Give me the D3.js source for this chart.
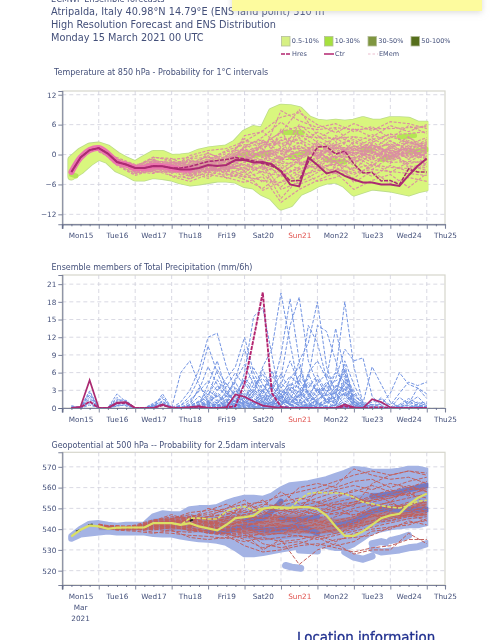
<!DOCTYPE html>
<html><head><meta charset="utf-8">
<script src="https://cdnjs.cloudflare.com/ajax/libs/d3/7.8.5/d3.min.js"></script>
<style>html,body{margin:0;padding:0;background:#fff;overflow:hidden}svg{display:block;filter:blur(.4px)}text{font-family:"DejaVu Sans",sans-serif}</style>
</head><body><svg id="c" width="499" height="640"></svg>
<script>
const titleLines=["ECMWF Ensemble forecasts","Atripalda, Italy 40.98°N 14.79°E (ENS land point) 310 m","High Resolution Forecast and ENS Distribution","Monday 15 March 2021 00 UTC"];
const dayLabels=["Mon15","Tue16","Wed17","Thu18","Fri19","Sat20","Sun21","Mon22","Tue23","Wed24","Thu25"];
const dayTicks=[0,24,48,72,96,120,144,168,192,216,240];
const minorTicks=[6,12,18,30,36,42,54,60,66,78,84,90,102,108,114,126,132,138,150,156,162,174,180,186,198,204,210,222,228,234,246];
const legendBands=["0.5-10%","10-30%","30-50%","50-100%"];
const legendBandColors=["#d6f083","#a6e03e","#7f9640","#566f1c"];
const legendLines=["Hres","Ctr","EMem"];
const hours6=[6,12,18,24,30,36,42,48,54,60,66,72,78,84,90,96,102,108,114,120,126,132,138,144,150,156,162,168,174,180,186,192,198,204,210,216,222,228,234,240];
const hoursM=[24,36,48,60,72,84,96,108,120,132,144,156,168,180,192,204,216,228,240];
const hoursLate=[72,78,84,90,96,102,108,114,120,126,132,138,144,150,156,162,168,174,180,186,192,198,204,210,216,222,228,234,240];
const hoursEarly=[6,12,18,24,30,36,42,48,54,60,66,72];

const tTicks=[12,6,0,-6,-12];
const tCtr=[-3.5,-0.6,0.9,1.3,0.2,-1.5,-2,-2.7,-2.7,-2.3,-2.35,-2.7,-3,-3,-2.7,-2.1,-2.3,-2.1,-1.1,-1.1,-1.6,-1.5,-1.95,-3.4,-6,-6.4,-0.6,-2.1,-3.8,-3.3,-4.3,-5,-5.6,-5.6,-6,-6,-6.3,-4.2,-2.3,-0.8];
const tHres=[-3.5,-0.6,0.9,1.3,0.2,-1.5,-2,-2.7,-2.7,-2.3,-2.35,-2.7,-2.7,-2.4,-1.9,-1.4,-1.2,-1,-0.6,-0.9,-1.3,-1.8,-2.3,-3.2,-5.3,-5.2,-1.5,1.5,1.6,0.1,0.7,-1.9,-3.7,-3.6,-5.3,-5.2,-6,-2.9,-3.5,-3.5];
const tUpper=[-1,0.6,1.6,1.8,1.2,-0.2,-1.2,-2,-0.9,0.1,0.1,-0.7,-0.6,-0.4,0.4,0.8,1,1.2,2.2,4.2,5.1,4.8,8.6,9.4,9.3,8.9,7.1,6.4,6.2,6.4,6.2,6.4,6.9,6.4,6.4,6.9,6.9,6.8,6,6];
const tLower=[-4.4,-3.2,-1.6,-0.4,-1.1,-2.8,-3.6,-4.6,-4.6,-4.1,-4.3,-4.6,-5.2,-5.6,-5.4,-5.1,-4.8,-4.8,-5,-5.9,-6.2,-7.6,-8.4,-10.4,-9.8,-7.6,-6.8,-5.8,-5.2,-5,-5.9,-7.6,-7,-6.4,-6.6,-6.8,-7.2,-7.6,-7,-6.6];
const tBlobs=[[[6,-4],[9,-4.3]],[[114,-0.5],[122,0]],[[126,-0.2],[136,0.3]],[[146,4.4],[158,4.4]],[[150,-0.5],[162,0.5]],[[174,-1],[186,-1.5]],[[198,1],[204,0.8]],[[210,-1],[216,-0.5]],[[222,3.5],[232,3.8]],[[228,0.5],[240,1]]];
const tMembers=[
[1.2,-1.2,-2.6,-2,-2.8,-3.2,-2.2,-1.5,0.5,1.2,3.5,2.2,4.5,2.8,5.2,3.5,5.8,4.6,6],
[1.5,-1,-3,-1.2,-2,-1.5,-3.2,-2.5,-3,-1.2,-4.5,-2.5,0.5,-1.5,1.2,3.2,1.5,2.6,1],
[1,-1.8,-2.2,-3.2,-1.8,-4,-1.5,0.2,-1.5,2.8,0.5,6,3.2,5.2,1.8,0.2,2.8,0.8,2.6],
[1.3,-0.8,-3.4,-2.4,-3.6,-2.4,-0.8,-3.4,-1.5,-4,-6.5,-3.5,-1.8,-3.8,-1,-3,-0.5,1.8,-1.2],
[0.8,-1.5,-2.4,-0.5,-1.2,-2.8,-4.4,-1.8,1.5,3.5,6.5,4,1.5,3.4,0.8,2.4,4.2,2,3.4],
[1.6,-2,-3.8,-3.2,-4.2,-4.8,-3.5,-4.2,-2.5,-5.6,-2.5,-6,-4.5,-2.5,-4.8,-1.8,-3.6,-1.5,0.4],
[0.5,-0.6,-2,-1.8,-1,-0.6,0.2,-1,3.2,1,-0.5,2.5,0.2,-1.6,-3.2,0.6,-1.8,3.4,1.6],
[1.1,-1.3,-2.9,-2.6,-3.1,-3.6,-2.6,-2.9,-4.2,-2.2,-8.8,-4.8,-2.6,-0.2,1.8,-0.6,0.8,-0.8,1.2],
[1.4,-1.6,-3.2,-1.6,-2.4,-2,-1,0.8,2,0.2,8.8,6.8,5.4,6.2,4.6,5.6,3.2,5.8,4.2],
[0.9,-1.1,-2.7,-3.6,-3.2,-5,-2.2,-3.8,-5,-6.8,-4,-0.8,1.8,0.2,-2.2,1.6,-1,0.6,-0.4],
[1.7,-0.9,-3,-2.2,-2.6,-1.2,-3.8,-0.6,-0.8,2,2.4,-1.2,2.8,1,3.6,1.2,2.2,-0.2,2],
[1.2,-1.9,-4,-1,-3.4,-3,-1.8,-2.2,3.8,4.6,1.5,3.4,-1,2.2,-0.4,-2.2,0.4,-2.6,-1.8],
[1,-1.4,-2.5,-2.8,-1.5,-2.2,-0.2,-3,-2,-1.8,-7,-5.6,-3.6,-1.2,-5.6,-3.4,-5.8,-4.6,-5.4],
[0.6,-1.2,-3.5,-3.8,-2.2,-3.4,-4.8,-2,-3.8,-0.4,3,1,-0.4,3.8,2.2,4,2.6,1,3],
[1.5,-1.7,-2.3,-0.8,-3.8,-1.8,-2.8,-3.6,0.2,-3,-1.5,5.2,2.4,-0.6,0.6,-0.8,1.2,3.6,0.6],
[1.3,-0.7,-2.8,-2.2,-1.4,-3.8,-1.2,0.6,1,-2.4,5,-1.8,-2.6,1.4,-1.8,2,0.2,1.4,-2.4],
[0.7,-1.6,-3.1,-1.4,-4.4,-5.4,-4,-4.6,-5.6,-4.4,-9.6,-7,-5.2,-3.6,-7,-5.2,-4,-6.6,-3.8],
[1.4,-1,-2.1,-2.8,-2.6,-0.2,0.8,1.2,2.6,4.8,7.5,8.4,6,4.4,6.2,4.8,6.6,6.2,5.2],
[1.1,-2.2,-4.2,-3,-2.8,-2.6,-1.4,-1.4,-0.6,0.6,-3,-0.4,1,-2.4,-0.8,0.8,-1.4,0.2,-0.6],
[1.2,-1.4,-2.6,-1.8,-3.2,-4.4,-3,-2,1.2,-0.6,1,-2,-0.6,2,3,1,3.6,2.4,1.6],
[0.9,-1.2,-3.3,-2.4,-1.8,-1,-2,-4.8,-3.4,-7.2,-5.5,-3,-5.4,-4.6,-2.6,-4.4,-2.2,-3.4,-2],
[1.6,-1.5,-2.8,-0.6,-0.8,-2.4,-3.6,-0.2,2.6,2.2,4.4,9,3.8,1.4,0.2,2.8,-0.6,1.8,2.4],
[1,-0.9,-3.6,-3.4,-3.6,-3.2,0.4,-1.6,-1.2,0.8,-0.8,0.6,-1.4,0.6,1.4,-1.2,1.8,-1,1],
[1.3,-1.8,-2.4,-2,-2.2,-4.2,-2.4,-3.2,-4.6,-3.4,-2,-4.2,0,-2.8,-4,-2.4,0.6,-2.2,-3.2],
[0.8,-1.1,-3,-2.6,-3,-0.8,-0.6,-0.8,0,1.6,2.2,3,1.2,-0.8,2.6,0.4,-0.2,0.4,1.4],
[1.5,-1.3,-2.2,-1.2,-1.6,-2,-3.4,-1.2,-2.2,-2.8,0,1.8,-0.4,1.6,-0.2,1.8,0.8,-0.4,0.2],
[1.2,-1.7,-3.4,-3,-3.4,-2.8,-1.6,-2.6,1.8,3,-1,-1,0.8,0.4,0.4,-0.2,1.2,0.6,2.2],
[1,-1,-2.6,-2.2,-2.4,-3.4,-2,-0.4,-1,0.4,1.2,0.2,2,0.8,1,0.6,-1,1,-0.2],
[1.1,-1.2,-2.8,-2.3,-2.7,-3,-2.8,-3.4,-0.4,-1.4,-0.6,-0.2,0.4,1.2,1.6,1.4,2,1.6,1.8],
[1.2,-1.5,-3.1,-2.9,-3,-2.2,-1.2,-1.8,-2.8,-1,0.8,1.2,1.6,1.8,0.8,1.9,0.4,1.2,0.6],
[0.9,-1.3,-2.5,-1.7,-2.1,-3,-2.4,-0.2,0.8,-0.2,-1.8,-1.6,-0.8,-0.4,-0.6,0.2,-0.4,-0.2,-0.8],
[1.4,-1.1,-2.4,-2.6,-1.9,-1.7,-0.4,-2.4,-0.2,-2,-1.2,-3,-1.6,-1.2,-1.4,-0.6,-1.6,-1.4,-1.6],
[1.3,-1.6,-3.2,-2,-3,-3.8,-3.2,-2.8,-2,-3.6,-4.2,-2.8,-2.4,-2,-2.8,-2,-2.6,-2.8,-2.6],
[0.7,-1.4,-2.9,-3.2,-2.6,-4.4,-2,-4,-4.4,-5.2,-5.6,-4.4,-3.2,-3,-3.6,-3,-3.4,-3.8,-4.2],
[1,-1,-3.3,-1.4,-1.6,-1.4,-1.6,-1,1.4,2.4,2.8,3.8,3.4,3.2,3.6,3,4,4.2,4.6],
[1.5,-1.2,-2.7,-2.4,-2.9,-2.6,-3,-1,0.6,1.8,4.6,5.6,5,5.4,5,5.2,5.2,5.4,5.6],
[1.1,-1.7,-3,-2.5,-2.2,-3.4,-1.4,-2.6,-0.9,0.2,-1,0.8,1,0.2,0.2,1,0.9,0.1,0.4],
[0.9,-1.5,-2.6,-2.1,-3.3,-2.9,-2,-1.2,0.4,-1.2,1.4,-0.8,2.4,-0.8,1.2,-0.4,1.4,0.8,-0.4],
[1.3,-1.1,-2.9,-1.9,-1.8,-2.2,-2.6,-3,-1.6,0.9,0.2,1.6,-0.2,2.6,-1.2,2.2,-0.8,2.8,1.2],
[1.2,-1.3,-3.6,-3.1,-2.5,-3.2,-3.6,-2.3,-3.2,-2.6,-3.6,-1.4,-3,-1.8,0.2,-1.6,0.2,-1.8,-1.2]
];

const pTicks=[21,18,15,12,9,6,3,0];
const pCtr=[0,0.2,4.7,0,0,0.9,1,0,0,0,0.6,0,0,0.1,0.3,0,0,0.1,2.3,1.9,1.1,0.4,0.2,0,0,0,0,0,0,0,0.6,0.1,0,1.5,1,0.1,0,0,0,0];
const pHres=[0,0.1,1.1,0,0,0.8,0.9,0,0,0,0.5,0.1,0,0.1,0.2,0,0,0.1,0.3,4.2,11.8,19.6,2.5,0.2,0,0,0,0,0,0,0.3,0,0,0.1,0.1,0,0,0,0,0];
const pEarly=[
[0.4,0,2.6,0,0,2.4,1,0,0,0.1,2.4,0],
[0.2,0.1,2.2,0,0.1,1.4,1.3,0,0,0.6,1.9,0],
[0.1,0,1.8,0,0,1.2,1.2,0,0,0.8,1.6,0],
[0,0.2,1.5,0,0,0.8,1,0,0,0.4,1.2,0],
[0,0,1.1,0,0,0.6,0.8,0,0,0.5,1,0],
[0.2,0,0.8,0,0,0.4,0.5,0,0,0.3,0.7,0],
[0,0,0.5,0,0,0.3,0.6,0,0,0.2,0.4,0],
[0,0.1,2.9,0,0,1.8,0.3,0,0,0.3,0.8,0]
];
const pLate=[
[0,6,8,4,1,0.5,0.2,0,0,0,0.5,1,0.2,0,0,0,0,0,0,0,0,0,0,0,0,0,0,0,0],
[0,1,3,6.5,12,12.7,7,3,1,0.2,0,0,0.5,1.5,0.5,0,0,0,0,0.4,0.1,0,0,0,0,0,0,0,0],
[0,0.5,2,5,10.5,6,2.5,1,0,0,0,1,2,0.4,0,0,0.8,0.2,0,0,0,0,0,0,0,0,0,0,0],
[0,0,1,3,7,4,2,5,10,5,1,0.5,0,0,0,0,0,0,0,0,0,0,0,0,0,0,0,0,0],
[0,0,0.5,2,1,3,5,7,12,6,3,0.8,0,0.5,1,0,0,0,0,0.3,0,0,0,0,0,0,0,0,0],
[0,0,0,0.5,4,8,3,1,6,15.5,17,9,1,0,0,0.2,0.6,0,0,0,0,0,0,0,0,0,0,0,0],
[0,0.2,0.5,1,2,6.5,4,2,1,3,7,10,19.5,11,3,1,0,0,0.5,0,0,0,0,0,0,0,0,0,0],
[0,0,0,0.5,1,2,0.8,3,1.5,4,5,3,9,18.5,8,2,0.8,0,0,0,0,0,0,0,0,0,0,0,0],
[0,0,0.2,0.4,0,1,0.5,1,2,1,3,6,5,14,18.8,8,4,1,0,0,0,0,0,0,0,0,0,0,0],
[0,0,0,0,0.6,0.4,1.5,0.6,2.5,1.2,0.8,2,4,8,4,14,11,5,1,0,0,0,0,0,0,0,0,0,0],
[0,0,0,0,0,0.8,2,0.4,1,3,2,0.5,2,3,8,11,18,7,2.5,0.6,0,0,0,0,0,0,0,0,0],
[0,0,0,0.2,0.5,0,0.4,2,1,0.5,1.5,4,1,0.8,3,5,14,13,8,2,0.6,0,0,0,0,0,0,0,0],
[0,0,0,0,0,0.3,0.8,1.2,3,1.6,0.6,1,3,2,1,6,8,5,13.5,6,1,0.2,0,0,0,0,0,0,0],
[0,0,0,0,0.2,0.6,0.2,0.5,0.8,2,4,2,1.2,4,1.8,3,2,4,6,18,7,0.8,0.2,0,0,0,0,0,0],
[0,0,0,0,0,0,0.5,1.4,0.6,1,0.4,2.5,1.5,5,7,2.5,1,2.5,5,10,8,8.5,2,0.4,0,0,0,0,0],
[0,0,0,0,0,0.1,0,0.3,2,0.8,1.8,0.7,3,1,2,4,3,1,2,8,4,0.8,7,4,1,0.2,0,0,0],
[0,0,0,0,0.1,0,0.4,0.8,1,0.4,3,1.4,0.6,2.2,0.8,1.5,5,2,3.5,6,2,1,0.5,0.6,2.5,6,4,3.4,2.4],
[0,0,0,0,0,0.2,0.1,0.6,0.2,1.6,0.8,3.6,2,0.7,3,1,2,3.8,1,5,1.5,0.4,1,1.5,0.5,2.5,4.4,3.8,4.4],
[0,0,0,0,0,0,0.2,0.1,1.3,0.5,2.2,1,0.4,3.2,1.4,0.6,3.2,0.9,2.6,3.8,0.8,0.2,0.6,0.2,0,1.8,0.7,3.4,1.6],
[0,0,0.1,0.4,0.8,0.3,0.9,0.4,0.6,2.4,0.9,0.3,1.6,0.5,2.4,1.3,0.4,1.7,0.6,4.6,1,0.6,0.3,1.8,0.1,0.6,1.6,0.8,1],
[0,0.3,0.2,0,0.3,1.4,0.3,0,0.3,0.8,0.2,1.8,0.7,1.2,0.4,2,1,0.3,3.1,2.8,0.3,0.1,0,0.8,0.2,0.1,0.9,1.9,0.4],
[0,0,0,0.2,0,0.4,1.1,0.2,1.9,0.3,1.1,0.5,2.4,0.4,1.1,0.3,1.4,2.4,0.5,3.4,0.6,0,0.2,0,0,0.3,0.4,0.2,0.8],
[0,0.1,0,0,0.2,0,0.2,1.7,0.4,0.1,0.6,0.2,0.4,1.8,0.2,0.7,0.2,0.9,1.4,2.6,0.2,0.2,0,0.1,0,0,0.2,0.6,0.1],
[0,0,0,0.1,0,0.2,0,0.3,0.1,0.7,0.2,0.9,0.2,0.3,0.7,0.2,0.8,0.3,0.4,1.7,0.1,0,0,0,0,0.1,0,0.2,0.2],
[0,0,0.1,0,0.1,0,0.6,0,0.5,0.2,0.1,0.3,1.2,0.6,0.1,0.5,0.1,1.2,0.2,1.2,0.2,0,0.1,0,0,0,0.1,0,0.1],
[0,0,0,0,0,0.1,0,0.1,0,0.3,0,0.1,0.3,0,0.3,0.1,0.3,0,0.6,0.8,0,0,0,0,0,0,0,0.1,0],
[0,0.2,0.1,0.5,1.6,0.8,2.8,1,4.2,2,1,2.6,1,2,1.2,2.8,0.6,1.4,1.8,4,1,0.2,0,0,0,0.4,1.2,0.4,0.2],
[0,0,0.3,1.2,0.4,2.6,1.2,3.4,2.2,3.2,1.6,4.2,2.2,0.8,2.2,0.4,1.6,2.2,0.8,2.2,0.6,0,0,0,0,0,0.6,1,0.4],
[0,0.4,1.4,2.8,4.6,3,4.2,2,5,3.4,5.8,3,1.6,3.6,2.6,4.4,3,3.4,4.6,5.4,1.6,0.4,0,0,0,0,0,0,0],
[0,0,0.6,3.4,2.2,4.8,2.4,4.6,7.4,4,2.4,5.4,3.4,5.4,4,2.2,4.2,5.8,3,6.6,2.4,0.6,0,0,0,0,0,0.6,0.2],
[0,0.1,0.2,1,3,1.8,3.6,6,3.6,6.8,4,1.8,4.4,2.2,5.6,3.4,5.6,2.6,6,4.4,3,0.2,0,0.2,0,0,0,0,0],
[0,0,0,0.4,1.2,3.8,1.8,2.6,4.8,2.4,6.6,3,5.8,3,1.8,5.8,2.4,4.4,2.2,7.4,1.2,0,0,0,0,0.2,0,0,0.1],
[0,0,0.2,0.7,2.4,1.2,2,4.4,1.4,5.2,2.6,6.2,2.4,4.2,3.4,1.4,3.4,1.2,3.8,3.2,0.5,0.1,0,0,0,0,0,0,0],
[0,0,0,0.2,0.9,2.2,1,3,1.7,2.8,1.3,2.2,3.6,1.4,4.8,2.4,1.2,3,1.4,2.4,1.2,0,0,0,0,0,0,0.3,0]
];

const zTicks=[570,560,550,540,530,520];
const zCtr=[536.5,539.7,541.8,541.3,540.2,540.7,540.8,540.8,540.8,542.9,542.9,542.9,542.1,542.9,541.3,540.4,539.4,542.1,545.3,545.8,546.5,549.7,550.6,550.5,550.2,550.6,550.6,549.7,546.5,541.3,536.8,536.8,538.9,542.1,545.3,546.6,547.4,551.8,555,557.1];
const zHres=[536.5,539.7,541.8,541.3,540.2,540.7,540.8,540.8,540.8,542.9,542.9,542.9,542.1,545.3,545.3,544.9,544.9,548.6,550.2,550.9,548.9,550.2,550.2,549.8,549.8,554.2,557.1,557.7,557.4,557.4,557,555.3,553,552.2,551.3,550.6,550.2,551.3,553.4,553.9];
const zUpper=[536.5,540,542.5,542.8,542,541.5,542,542,542,546,547.5,547,547,549.5,550,550,550.5,552.5,554,555,555,554.5,556,559,561,561.5,562,563,564,565.5,567,568.8,568.5,567.5,567.5,567.5,568,569,569,568];
const zLower=[535.5,537.5,538,538.5,539,538.5,538.5,538.5,538.5,537.8,537.5,537.5,536.5,535.8,535.2,535,534.5,533.5,531,528,528,528.6,529.5,530.3,531,532,532,532.5,532,531,531,533,536,539,540,541,541.5,542,542,543];
const zMidUp=[542,541.5,541.5,545,546,547,546,547,548.5,550.5,552.5,553,553.5,554.5,556,557.5,557.5,560,561.5];
const zMidLow=[539.5,539.5,539.5,539.5,539,538.5,538,537,535.5,534.5,535,536,536.5,537.5,539,541.5,543.5,544.5,545.5];
const zRedUp=[541.5,541,541,544.5,545.5,546,545,546,546.5,546,547,547,546.5,545,546,550,551,552,553];
const zRedLow=[540,539.5,539.5,540,540,539.5,539,538.5,538,537.5,537.5,538,537.5,538.5,540.5,543,545,546,546.5];
const zArcs=[[[186,529],[192,526.5],[198,525.5],[204,527]],[[204,530.5],[210,529],[216,529.5],[222,530],[228,531],[234,531.5],[240,533]],[[147,522.5],[151,521.7],[157,521.2]],[[216,534.5],[222,535.5],[228,537]],[[204,533],[210,534],[213,533.5]],[[156,530],[168,529.5]]];
const zStrips=[[[96,539.5],[108,539],[120,541.3],[132,539.7],[144,540],[156,541.3],[168,538]],[[180,542],[192,543.7],[204,548.6],[216,549.7],[228,549.4],[240,549.4]],[[204,555.8],[216,557],[228,559],[240,561]],[[120,544.5],[132,545.3],[144,553.4]],[[144,545],[156,544.5],[168,546]]];
const zBlack=[[[9,538.8],[12,539.6]],[[17,541.8],[20,542.3]],[[84,544],[86,544.6]]];
const zMembers=[
[541.5,540,541,543,544,546,548,550,552,553,556,558,560,563,566,568,566,568,567],
[542,541,540.5,542,543,544,546,547,549,552,551,554,557,559,561,559,562,560,563],
[541,541.5,541.5,544,546,545,543,545,547,549,553,555,553,556,558,561,558,561,558],
[542.5,540.5,540,541,545,547,545,544,546,545,548,551,553,550,553,556,559,556,560],
[541.5,541,541,543,542,543,544,542,544,547,549,548,551,553,555,553,555,557,555],
[541,540,539.5,540.5,541.5,541,542,544,543,546,544,546,549,547,550,552,550,553,551],
[542,541.5,541,542,541,542.5,540.5,541,542,543,546,543,545,548,547,549,552,550,552],
[541.5,540.5,541.5,543.5,543,540.5,539,540,540.5,541,543,545,542,544,546,551,553,549,550],
[541,540,540,541,540,541,542.5,539,539,540,541,542,544,541,544,546,549,552,548],
[542,541,540.5,539.5,541,540,538,538,538,539,539.5,541,540,542,541,547,546,548,551],
[541.5,540.5,541,542,542.5,539,541,543,541,537,538,540,538,539.5,543,544,548,546,547],
[541,541,541.5,540,539,538.5,539.5,537.5,536,538,540,538,541,538,540,543,545,547,549],
[542,540,540,538.5,538,537,536.5,535.5,537,535,536,537,535,537,539,541,543,545,546],
[541.5,539.5,539,538,539.5,536,535,536,534,536,534,535,537,534,538,540,541,543,544],
[541,541,540,541.5,543.5,544.5,543,541,539,533,531,533,536,532,534,539,540,544,542],
[542,540.5,542,544.5,545,542,540,538,535,531,533,534,532,535,536,537,541,542,545],
[541.5,541,541,542.5,544,542,541,539.5,538,530,535,523,530,533,528,530,530,538,533],
[541,540,541.5,543,542,541,538,537,532,529,530,532,533,531,529,531,532,535,535],
[542,541.5,540.5,541.5,541,543,541.5,539,541,544,542,540,543,546,549,547,544,547,544],
[541.5,540.5,541,543.5,544.5,543,545,546,544,548,546,549,547,551,546,549,551,549,554],
[541,541,540,542.5,543,546,547,549,546,550,550,547,550,549,552,554,555,558,552],
[542,540,541.5,542,545,548,549,552,548,551,558,552,555,558,556,551,553,555,557],
[541.5,541,540.5,544,547,544,546,550,554,547,552,560,562,560,563,564,560,563,565],
[541,541.5,541,541,542,545,550,548,550,554,547,550,558,561,569,566,564,565,562],
[542,540.5,540,540,544,543,542.5,545,552,549,544,546,552,555,559,557,553,560,558],
[541.5,540,541,542.5,541,541.5,544,541,545,543,541,543,548,552,551,562,566,568,566],
[541.5,541,541,544,545,546,544.5,546,547,545,546,545,544,543,545,548,550,552,553],
[541,540.5,540.5,543,544,544,543,542.5,543,541.5,542,541,542,541,543,546,547,548,549],
[542,541,541.5,541.5,542.5,542,540,539.5,540,540,540,539,538,540,542,544,546,547,547],
[541.5,540,540,540,541,539.5,538.5,538,537,537.5,538,536.5,536,538,541,543,544,546,548],
[541,541,541,542,543.5,545,546,547.5,548,549.5,549,550,551,552,553,555,557,559,560],
[542,540.5,540.5,543,543,542,541.5,540.5,542,543.5,544,544,547,549,552,554,556,557,559]
];

const W=499,H=640,x0=62.3,x1=445;
const svg=d3.select("#c");
const ink="#44507a";
const xS=d3.scaleLinear().domain([0,252]).range([x0,x1]);
const line=(y,c)=>d3.line().x(d=>xS(d[0])).y(d=>y(d[1])).curve(c||d3.curveLinear);

const defs=svg.append("defs");
const f=defs.append("filter").attr("id","sh").attr("x","-10%").attr("y","-50%").attr("width","120%").attr("height","250%");
f.append("feDropShadow").attr("dx",0).attr("dy",1.5).attr("stdDeviation",3).attr("flood-color","#bbb").attr("flood-opacity",.55);
titleLines.forEach((t,i)=>svg.append("text").attr("x",51).attr("y",[2,15,28,41][i]).attr("font-size",i==0?8.2:9.75).attr("fill",ink).text(t));
svg.append("rect").attr("x",232).attr("y",-8).attr("width",250).attr("height",19).attr("fill","#fdfb9e").attr("filter","url(#sh)");

legendBands.forEach((t,i)=>{
  const lx=[281.5,324.5,368,411][i];
  svg.append("rect").attr("x",lx).attr("y",36.5).attr("width",8.5).attr("height",9.5).attr("fill",legendBandColors[i]).attr("stroke","#b4bd9a").attr("stroke-width",.8);
  svg.append("text").attr("x",lx+10.3).attr("y",43.3).attr("font-size",6.5).attr("fill",ink).text(t);
});
legendLines.forEach((t,i)=>{
  const lx=[281,324,368][i];
  const l=svg.append("line").attr("x1",lx).attr("x2",lx+10).attr("y1",54).attr("y2",54).attr("stroke",i==2?"#e8b6c8":"#b3246f").attr("stroke-width",i==2?.9:1.5);
  if(i==0)l.attr("stroke-dasharray","4 1");
  if(i==2)l.attr("stroke-dasharray","2.5 2");
  svg.append("text").attr("x",lx+11).attr("y",56.3).attr("font-size",6.5).attr("fill",ink).text(t);
});

let clipN=0;
function panel(title,tx,ty,top,bottom,yDomain,ticks,labelY){
  const g=svg.append("g");
  const y=d3.scaleLinear().domain(yDomain).range([bottom,top]);
  g.append("text").attr("x",tx).attr("y",ty).attr("font-size",8).attr("fill",ink).text(title);
  g.append("rect").attr("x",x0).attr("y",top).attr("width",x1-x0).attr("height",bottom-top).attr("fill","#fff").attr("stroke","#d6d6cc").attr("stroke-width",1.2);
  const grid=g.append("g").attr("stroke","#cfcfdc").attr("stroke-width",.8).attr("stroke-dasharray","4 3");
  ticks.forEach(v=>grid.append("line").attr("x1",x0).attr("x2",x1).attr("y1",y(v)).attr("y2",y(v)));
  dayTicks.forEach(h=>{if(h>0)grid.append("line").attr("x1",xS(h)).attr("x2",xS(h)).attr("y1",top).attr("y2",bottom)});
  const id="cl"+(clipN++);
  defs.append("clipPath").attr("id",id).append("rect").attr("x",x0).attr("y",top).attr("width",xS(241)-x0).attr("height",bottom-top);
  const layer=g.append("g").attr("clip-path",`url(#${id})`);
  const ax=g.append("g");
  const ya=ax.append("g").attr("transform",`translate(${x0},0)`).call(d3.axisLeft(y).tickValues(ticks).tickSize(4).tickPadding(2));
  const xa=ax.append("g").attr("transform",`translate(0,${bottom})`).call(d3.axisBottom(xS).tickValues(dayTicks).tickFormat("").tickSize(4.5));
  const xm=ax.append("g").attr("transform",`translate(0,${bottom})`).call(d3.axisBottom(xS).tickValues(minorTicks).tickFormat("").tickSize(2));
  [ya,xa,xm].forEach(a=>{a.selectAll("path").attr("stroke","#7a8098").attr("stroke-width",1.1);a.selectAll("line").attr("stroke","#5c6484").attr("stroke-width",.8);a.selectAll("text").attr("fill",ink).attr("font-size",7.3).attr("font-family","DejaVu Sans")});
  ax.append("line").attr("x1",x0).attr("x2",x0).attr("y1",bottom).attr("y2",bottom+4.5).attr("stroke","#5c6484").attr("stroke-width",.8);
  const lab=ax.append("g").attr("transform",`translate(0,${labelY-4})`).call(d3.axisBottom(xS).tickValues(dayTicks.map(h=>h+12)).tickSize(0).tickPadding(1.5).tickFormat((d,i)=>dayLabels[i]));
  lab.select("path").remove();
  lab.selectAll("text").attr("font-size",7.3).attr("font-family","DejaVu Sans").attr("fill",(d,i)=>dayLabels[i]=="Sun21"?"#e0534f":ink);
  return {y,layer};
}
const zip=(h,v)=>v.map((d,i)=>[h[i],d]);
function bandPath(y,up,lo,hrs,c){
  return d3.area().x(d=>xS(d[0])).y0(d=>y(d[1])).y1(d=>y(d[2])).curve(c||d3.curveLinear)(hrs.map((h,i)=>[h,up[i],lo[i]]));
}

// Temperature
{
  const {y,layer}=panel("Temperature at 850 hPa - Probability for 1°C intervals",54,75,91,224.3,[-14,12.75],tTicks,235);
  const d=bandPath(y,tUpper,tLower,hours6);
  layer.append("path").attr("d",d).attr("fill","#bcdc8a").attr("stroke","#bcdc8a").attr("stroke-width",8).attr("stroke-linejoin","round");
  layer.append("path").attr("d",d).attr("fill","#d9f67e").attr("stroke","#d9f67e").attr("stroke-width",6.4).attr("stroke-linejoin","round");
  tBlobs.forEach(b=>layer.append("path").attr("d",line(y)(b)).attr("fill","none").attr("stroke","#b4e455").attr("stroke-width",5).attr("stroke-linecap","round"));
  tMembers.forEach(m=>layer.append("path").attr("d",line(y)(zip(hoursM,m))).attr("fill","none").attr("stroke","#db8ea2").attr("stroke-width",1.15).attr("stroke-dasharray","3 1.5"));
  const early=zip(hours6,tCtr).slice(0,14);
  layer.append("path").attr("d",line(y,d3.curveCatmullRom)(early)).attr("fill","none").attr("stroke","#ec74ae").attr("stroke-width",6).attr("stroke-linecap","round");
  layer.append("path").attr("d",line(y)(zip(hours6,tHres))).attr("fill","none").attr("stroke","#ab2a72").attr("stroke-width",1.5).attr("stroke-dasharray","4 1.2");
  layer.append("path").attr("d",line(y)(zip(hours6,tCtr))).attr("fill","none").attr("stroke","#ab2a72").attr("stroke-width",2);
}
// Precipitation
{
  const {y,layer}=panel("Ensemble members of Total Precipitation (mm/6h)",51.5,270,275,408,[0,22.55],pTicks,419);
  const blue="#7394e2";
  pEarly.forEach(m=>layer.append("path").attr("d",line(y)(zip(hoursEarly,m))).attr("fill","none").attr("stroke",blue).attr("stroke-width",1).attr("stroke-dasharray","3 1.3"));
  pLate.forEach(m=>layer.append("path").attr("d",line(y)(zip(hoursLate,m))).attr("fill","none").attr("stroke",blue).attr("stroke-width",1).attr("stroke-dasharray","3.5 1.6"));
  layer.append("path").attr("d",line(y)(zip(hours6,pHres))).attr("fill","none").attr("stroke","#b3246f").attr("stroke-width",1.9).attr("stroke-dasharray","4 1");
  layer.append("path").attr("d",line(y)(zip(hours6,pCtr))).attr("fill","none").attr("stroke","#ab2a72").attr("stroke-width",1.7);
}
// Geopotential
{
  const {y,layer}=panel("Geopotential at 500 hPa -- Probability for 2.5dam intervals",51.5,448,452.3,585,[513.1,577],zTicks,596);
  const base="#a4b3e4";
  layer.append("path").attr("d",bandPath(y,zUpper,zLower,hours6)).attr("fill",base).attr("stroke",base).attr("stroke-width",6.5).attr("stroke-linejoin","round");
  zArcs.forEach(b=>layer.append("path").attr("d",line(y)(b)).attr("fill","none").attr("stroke",base).attr("stroke-width",7).attr("stroke-linecap","round").attr("stroke-linejoin","round"));
  layer.append("path").attr("d",bandPath(y,zMidUp,zMidLow,hoursM)).attr("fill","#8f9bd6").attr("opacity",.8);
  layer.append("path").attr("d",bandPath(y,zRedUp,zRedLow,hoursM)).attr("fill","#bf5a50").attr("opacity",.45);
  zStrips.forEach(b=>layer.append("path").attr("d",line(y,d3.curveCatmullRom)(b)).attr("fill","none").attr("stroke","#7379c2").attr("stroke-width",5.5).attr("stroke-linecap","round"));
  zMembers.forEach(m=>layer.append("path").attr("d",line(y)(zip(hoursM,m))).attr("fill","none").attr("stroke","#c2605c").attr("stroke-width",1).attr("stroke-dasharray","4 1.6"));
  zBlack.forEach(b=>layer.append("path").attr("d",line(y)(b)).attr("fill","none").attr("stroke","#222").attr("stroke-width",2));
  layer.append("path").attr("d",line(y)(zip(hours6,zHres))).attr("fill","none").attr("stroke","#dbe064").attr("stroke-width",1.6).attr("stroke-dasharray","4 1.5");
  layer.append("path").attr("d",line(y)(zip(hours6,zCtr))).attr("fill","none").attr("stroke","#dbe064").attr("stroke-width",2.2);
  svg.append("text").attr("x",xS(12)).attr("y",610).attr("text-anchor","middle").attr("font-size",7.3).attr("fill",ink).text("Mar");
  svg.append("text").attr("x",xS(12)).attr("y",621).attr("text-anchor","middle").attr("font-size",7.3).attr("fill",ink).text("2021");
}
svg.append("text").attr("x",297).attr("y",641.6).attr("font-family","Liberation Sans").attr("font-size",13.4).attr("fill","#20308f").attr("stroke","#20308f").attr("stroke-width",.3).text("Location information");
</script></body></html>
